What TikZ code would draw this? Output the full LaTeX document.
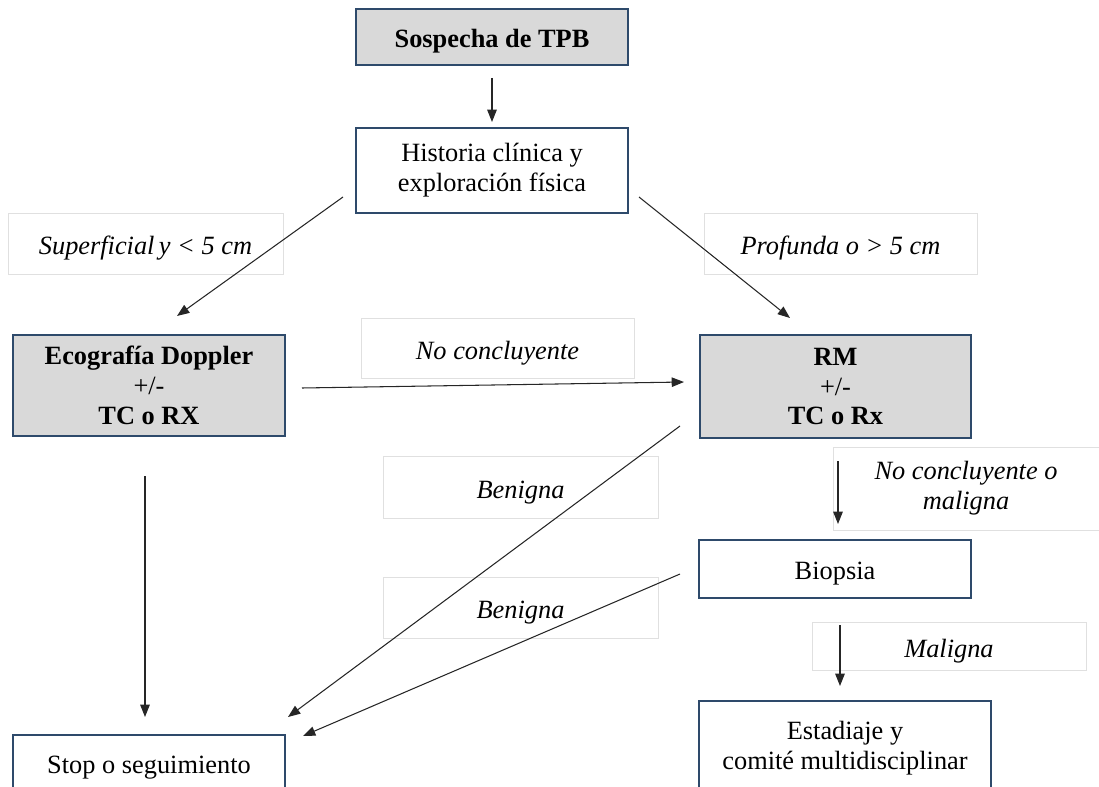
\documentclass[tikz,border=0pt]{standalone}
\usepackage{fontspec}
\setmainfont{Liberation Serif}
\usetikzlibrary{arrows.meta}
\definecolor{azulborde}{HTML}{2E4A6B}
\definecolor{grisfondo}{HTML}{D9D9D9}

\begin{document}
\begin{tikzpicture}[x=0.02cm,y=-0.02cm,
  caja/.style={draw=azulborde,line width=1pt,align=center,inner sep=0pt,font=\fontsize{15}{17}\selectfont,
    execute at begin node={\rule{0pt}{15.5pt}}},
  cajagris/.style={caja,fill=grisfondo,font=\fontsize{15}{17}\selectfont\bfseries},
  etiq/.style={draw=black!12,line width=0.4pt,align=center,inner sep=0pt,font=\fontsize{15}{17}\selectfont\itshape,
    execute at begin node={\rule{0pt}{16pt}}},
  flecha/.style={-{Triangle[length=7pt,width=5.4pt]},line width=0.6pt,draw=black!85}]
\useasboundingbox (0,0) rectangle (1099,787);
\clip (0,0) rectangle (1099,787);

% cajas
\node[cajagris,minimum width=5.44cm,minimum height=1.12cm] (sospecha) at (492,37) {Sospecha de TPB};
\node[caja,minimum width=5.44cm,minimum height=1.7cm] (historia) at (492,170.5) {Historia clínica y\\exploración física};
\node[cajagris,minimum width=5.44cm,minimum height=2.02cm] (eco) at (149,385.5) {Ecografía Doppler\\\textmd{+/-}\\TC o RX};
\node[cajagris,minimum width=5.42cm,minimum height=2.06cm] (rm) at (835.5,386.5) {RM\\\textmd{+/-}\\TC o Rx};
\node[caja,minimum width=5.44cm,minimum height=1.16cm] (biopsia) at (835,569) {Biopsia};
\node[caja,minimum width=5.44cm,minimum height=1.12cm] (stop) at (149,763) {Stop o seguimiento};
\node[caja,minimum width=5.84cm,minimum height=1.88cm] (estadiaje) at (845,748) {Estadiaje y\\comité multidisciplinar};

% etiquetas
\node[etiq,minimum width=5.5cm,minimum height=1.22cm] (lsup) at (145.5,243.5) {Superficial\,y {<} 5 cm};
\node[etiq,minimum width=5.46cm,minimum height=1.22cm] (lprof) at (840.5,243.5) {Profunda o {>} 5 cm};
\node[etiq,minimum width=5.46cm,minimum height=1.2cm] (lnoc) at (497.5,348) {No concluyente};
\node[etiq,minimum width=5.5cm,minimum height=1.24cm] (lben1) at (520.5,487) {Benigna};
\node[etiq,minimum width=5.5cm,minimum height=1.22cm] (lben2) at (520.5,607.5) {Benigna};
\node[etiq,minimum width=5.32cm,minimum height=1.66cm] (lnocm) at (966,488.5) {No concluyente o\\maligna};
\node[etiq,minimum width=5.48cm,minimum height=0.96cm] (lmal) at (949,646.5) {Maligna};

% extremos de las flechas
\coordinate (s1) at (492,78);    \coordinate (h1) at (492,122);
\coordinate (h2) at (343,197);   \coordinate (e1) at (177,316);
\coordinate (h3) at (639,197);   \coordinate (r1) at (790,318);
\coordinate (e2) at (302,388);   \coordinate (r2) at (684,382);
\coordinate (e3) at (145,476);   \coordinate (t1) at (145,717);
\coordinate (r3) at (680,426);   \coordinate (t2) at (288,717);
\coordinate (b1) at (680,574);   \coordinate (t3) at (303,736);
\coordinate (r4) at (838,461);   \coordinate (b2) at (838,524);
\coordinate (b3) at (840,625);   \coordinate (d1) at (840,686);

\draw[flecha] (s1) -- (h1);
\draw[flecha] (h2) -- (e1);
\draw[flecha] (h3) -- (r1);
\draw[flecha] (e2) -- (r2);
\draw[flecha] (e3) -- (t1);
\draw[flecha] (r3) -- (t2);
\draw[flecha] (b1) -- (t3);
\draw[flecha] (r4) -- (b2);
\draw[flecha] (b3) -- (d1);
\end{tikzpicture}
\end{document}
